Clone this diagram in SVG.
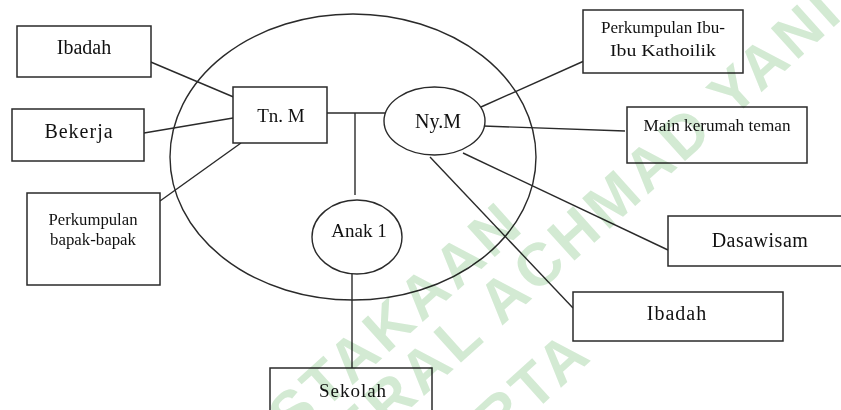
<svg xmlns="http://www.w3.org/2000/svg" width="841" height="410" viewBox="0 0 841 410">
<style>
  .box { fill: #fff; stroke: #2a2a2a; stroke-width: 1.5; }
  .ell { fill: #fff; stroke: #2a2a2a; stroke-width: 1.4; }
  .big { fill: none; stroke: #2a2a2a; stroke-width: 1.4; }
  .ln { stroke: #2a2a2a; stroke-width: 1.4; fill: none; }
  .t { font-family: "Liberation Serif", "DejaVu Serif", "Times New Roman", serif; fill: #111; text-anchor: middle; }
  .wm { font-family: "Liberation Sans", Arial, sans-serif; font-weight: bold; font-size: 60px; letter-spacing: 4px; fill: #d3ead3; text-anchor: end; }
</style>
<rect width="841" height="410" fill="#fff"/>
<g id="family-circle">
  <ellipse class="big" cx="353" cy="157" rx="183" ry="143"/>
</g>
<g id="connectors">
  <line class="ln" x1="146" y1="60" x2="243" y2="101"/>
  <line class="ln" x1="144" y1="133" x2="239" y2="117"/>
  <line class="ln" x1="160" y1="201" x2="241" y2="143"/>
  <line class="ln" x1="327" y1="113" x2="396" y2="113"/>
  <line class="ln" x1="355" y1="113" x2="355" y2="195"/>
  <line class="ln" x1="352" y1="273" x2="352" y2="368"/>
  <line class="ln" x1="481" y1="107" x2="584" y2="61"/>
  <line class="ln" x1="483" y1="126" x2="625" y2="131"/>
  <line class="ln" x1="463" y1="153" x2="668" y2="250"/>
  <line class="ln" x1="430" y1="157" x2="573" y2="308"/>
</g>
<g id="ibadah-left">
  <rect class="box" x="17" y="26" width="134" height="51"/>
  <text class="t" font-family="Liberation Serif, DejaVu Serif, serif" x="84" y="54" font-size="20">Ibadah</text>
</g>
<g id="bekerja">
  <rect class="box" x="12" y="109" width="132" height="52"/>
  <text class="t" font-family="Liberation Serif, DejaVu Serif, serif" x="79" y="138" font-size="20" letter-spacing="1">Bekerja</text>
</g>
<g id="perkumpulan-bapak">
  <rect class="box" x="27" y="193" width="133" height="92"/>
  <text class="t" font-family="Liberation Serif, DejaVu Serif, serif" x="93" y="225" font-size="16" textLength="89" lengthAdjust="spacingAndGlyphs">Perkumpulan</text>
  <text class="t" font-family="Liberation Serif, DejaVu Serif, serif" x="93" y="245" font-size="16" textLength="86" lengthAdjust="spacingAndGlyphs">bapak-bapak</text>
</g>
<g id="tn-m">
  <rect class="box" x="233" y="87" width="94" height="56"/>
  <text class="t" font-family="Liberation Serif, DejaVu Serif, serif" x="281" y="122" font-size="19">Tn. M</text>
</g>
<g id="ny-m">
  <ellipse class="ell" cx="434.5" cy="121" rx="50.5" ry="34"/>
  <text class="t" font-family="Liberation Serif, DejaVu Serif, serif" x="438" y="128" font-size="20">Ny.M</text>
</g>
<g id="anak-1">
  <ellipse class="ell" cx="357" cy="237" rx="45" ry="37"/>
  <text class="t" font-family="Liberation Serif, DejaVu Serif, serif" x="359" y="237" font-size="19">Anak 1</text>
</g>
<g id="sekolah">
  <rect class="box" x="270" y="368" width="162" height="60"/>
  <text class="t" font-family="Liberation Serif, DejaVu Serif, serif" x="353" y="397" font-size="19" letter-spacing="1">Sekolah</text>
</g>
<g id="perkumpulan-ibu">
  <rect class="box" x="583" y="10" width="160" height="63"/>
  <text class="t" font-family="Liberation Serif, DejaVu Serif, serif" x="663" y="33" font-size="17" textLength="124" lengthAdjust="spacingAndGlyphs">Perkumpulan Ibu-</text>
  <text class="t" font-family="Liberation Serif, DejaVu Serif, serif" x="663" y="56" font-size="17" textLength="106" lengthAdjust="spacingAndGlyphs">Ibu Kathoilik</text>
</g>
<g id="main-kerumah-teman">
  <rect class="box" x="627" y="107" width="180" height="56"/>
  <text class="t" font-family="Liberation Serif, DejaVu Serif, serif" x="717" y="131" font-size="16.5" textLength="147" lengthAdjust="spacingAndGlyphs">Main kerumah teman</text>
</g>
<g id="dasawisam">
  <rect class="box" x="668" y="216" width="180" height="50"/>
  <text class="t" font-family="Liberation Serif, DejaVu Serif, serif" x="760" y="247" font-size="20" letter-spacing="0.5">Dasawisam</text>
</g>
<g id="ibadah-right">
  <rect class="box" x="573" y="292" width="210" height="49"/>
  <text class="t" font-family="Liberation Serif, DejaVu Serif, serif" x="677" y="320" font-size="20" letter-spacing="1">Ibadah</text>
</g>
<g id="watermark" style="mix-blend-mode: multiply">
  <text class="wm" transform="translate(527,228) rotate(-42)">PERPUSTAKAAN</text>
  <text class="wm" transform="translate(846,16) rotate(-42)">UNIVERSITAS JENDERAL ACHMAD YANI</text>
  <text class="wm" transform="translate(595,357) rotate(-42)">YOGYAKARTA</text>
</g>
</svg>
